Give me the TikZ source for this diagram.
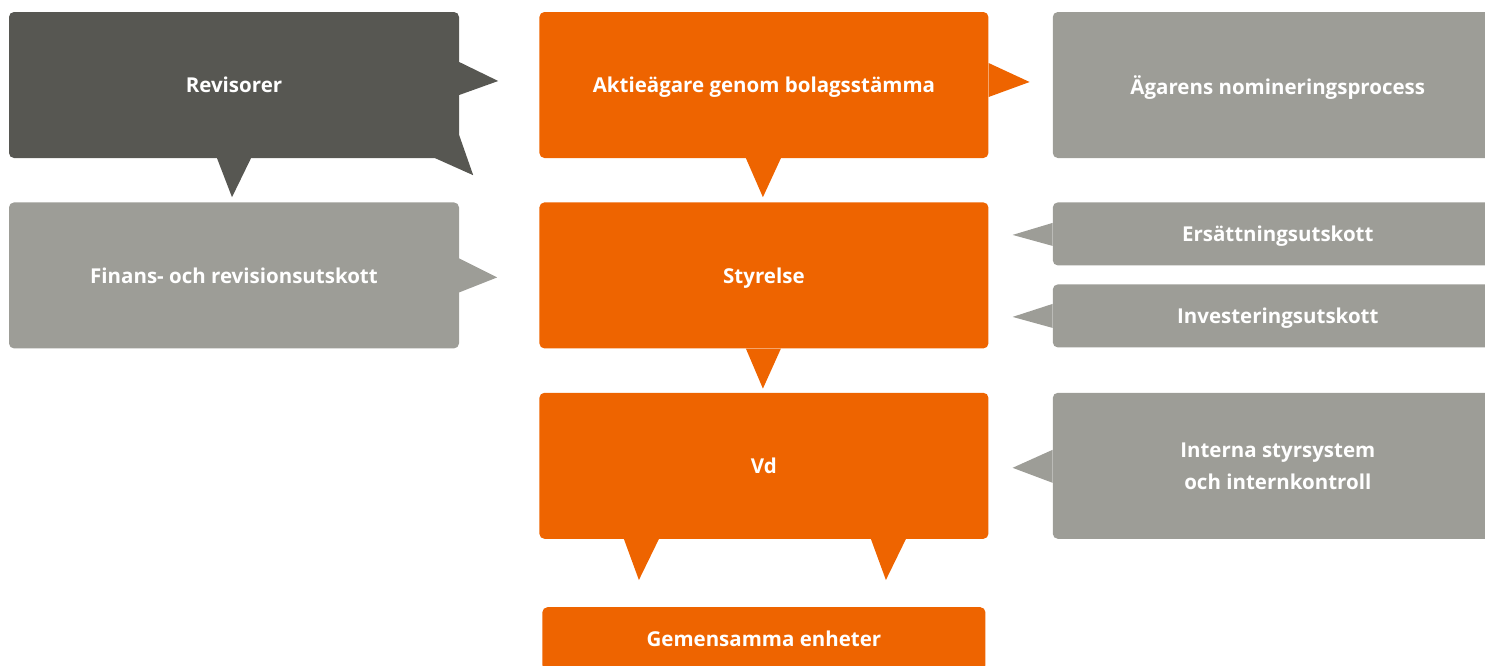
\documentclass[tikz,border=0pt]{standalone}
\usepackage{fontspec}
\setmainfont{Open Sans}
\usetikzlibrary{positioning,calc}
\definecolor{darkgrey}{HTML}{575752}
\definecolor{lightgrey}{HTML}{9D9D97}
\definecolor{orangebox}{HTML}{EE6400}

\begin{document}
\begin{tikzpicture}[x=1pt,y=-1pt,
  box/.style={rectangle,rounded corners=5pt,minimum width=450pt,minimum height=146pt,
    text=white,font=\fontsize{20.5}{32}\selectfont\bfseries,align=center,
    inner sep=0pt,text depth=0pt},
  small box/.style={box,minimum height=63pt},
  dark node/.style={box,fill=darkgrey},
  grey node/.style={box,fill=lightgrey},
  main node/.style={box,fill=orangebox}]

  \useasboundingbox (0,0) rectangle (1485,665);

  \node[dark node] (1) at (234,85) {Revisorer};
  \node[main node, minimum width=449pt] (2) [right=80pt of 1] {Aktieägare genom bolagsstämma};
  \node[grey node] (3) [right=64pt of 2] {Ägarens nomineringsprocess};
  \node[grey node] (4) [below=44pt of 1] {Finans- och revisionsutskott};
  \node[main node, minimum width=449pt] (5) [below=44pt of 2] {Styrelse};
  \node[grey node, small box] (6) [right=64pt of 5.north east, anchor=north west] {Ersättningsutskott};
  \node[grey node, small box] (7) [right=64pt of 5.south east, anchor=south west, yshift=1pt] {Investeringsutskott};
  \node[main node, minimum width=449pt] (8) [below=44pt of 5] {Vd};
  \node[grey node] (9) [right=64pt of 8] {Interna styrsystem\\och internkontroll};
  \node[main node, small box, minimum width=443pt, anchor=north] (10) at ($(8.south)+(0,68)$) {Gemensamma enheter};

  % tails
  \fill[darkgrey] ($(1.east)+(0,-23)$) -- ($(1.east)+(39,-4)$) -- ($(1.east)+(0,10)$) -- cycle;
  \fill[darkgrey] ($(1.south east)+(0,-23)$) -- ($(1.south east)+(14,17)$) -- ($(1.south east)+(-24,0)$) -- cycle;
  \fill[darkgrey] ($(1.south)+(-17,0)$) -- ($(1.south)+(-2,39)$) -- ($(1.south)+(17,0)$) -- cycle;
  \fill[orangebox] ($(2.east)+(0,-22)$) -- ($(2.east)+(41,-3)$) -- ($(2.east)+(0,12)$) -- cycle;
  \fill[orangebox] ($(2.south)+(-18,0)$) -- ($(2.south)+(-1,39)$) -- ($(2.south)+(17,0)$) -- cycle;
  \fill[lightgrey] ($(4.east)+(0,-17)$) -- ($(4.east)+(38,2)$) -- ($(4.east)+(0,17)$) -- cycle;
  \fill[orangebox] ($(5.south)+(-18,0)$) -- ($(5.south)+(-1,40)$) -- ($(5.south)+(17,0)$) -- cycle;
  \fill[lightgrey] ($(6.west)+(0,-11)$) -- ($(6.west)+(-40,1)$) -- ($(6.west)+(0,12)$) -- cycle;
  \fill[lightgrey] ($(7.west)+(0,-12)$) -- ($(7.west)+(-40,1)$) -- ($(7.west)+(0,12)$) -- cycle;
  \fill[lightgrey] ($(9.west)+(0,-16)$) -- ($(9.west)+(-40,2)$) -- ($(9.west)+(0,17)$) -- cycle;
  \fill[orangebox] ($(8.south)+(-140,0)$) -- ($(8.south)+(-125,41)$) -- ($(8.south)+(-105,0)$) -- cycle;
  \fill[orangebox] ($(8.south)+(107,0)$) -- ($(8.south)+(122,41)$) -- ($(8.south)+(142,0)$) -- cycle;

\end{tikzpicture}
\end{document}
